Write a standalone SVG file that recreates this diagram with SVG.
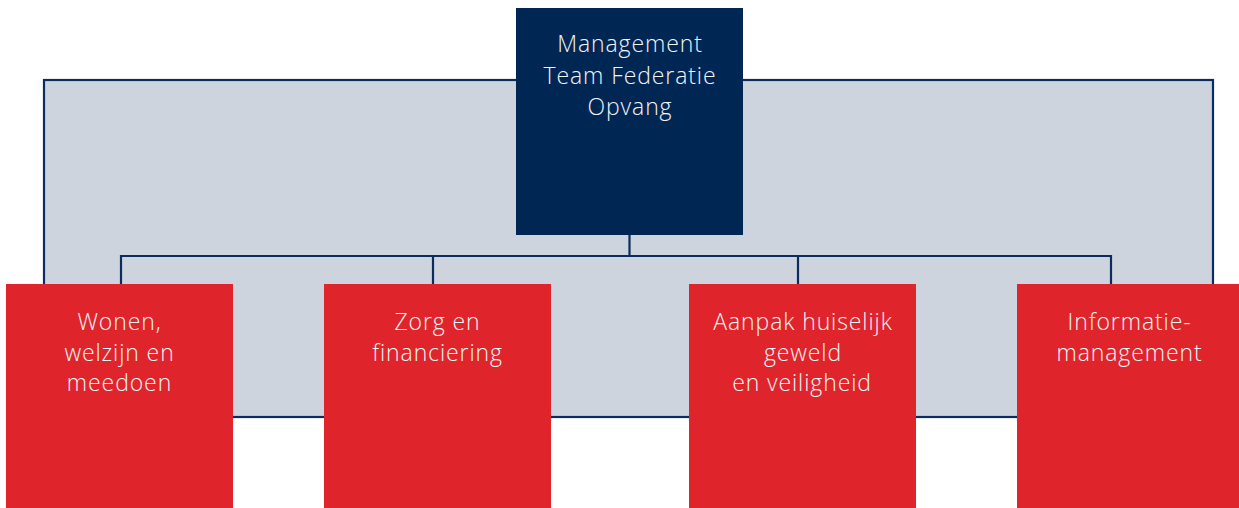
<svg xmlns="http://www.w3.org/2000/svg" width="1239" height="508" viewBox="0 0 1239 508">
<style>
.panel{fill:#cdd4de;stroke:#0b2c5c;stroke-width:2.2}
.conn{fill:none;stroke:#0b2c5c;stroke-width:2.2}
.top{fill:#002654}
.red{fill:#df252b}
.t{font-family:"Open Sans","Noto Sans",sans-serif;font-size:23px;letter-spacing:0.9px;fill:#f4f4f6;text-anchor:middle;font-weight:300}
</style>
<rect class="panel" x="44" y="80" width="1169" height="337"/>
<g id="connectors">
<path class="conn" d="M629.5 235V256M121 284V256H1111V284M433 256V284M798 256V284"/>
</g>
<g id="mt">
<rect class="top" x="516" y="8" width="227" height="227"/>
<text class="t" x="630" y="52">Management</text>
<text class="t" x="630" y="84">Team Federatie</text>
<text class="t" x="630" y="115">Opvang</text>
</g>
<g id="wonen">
<rect class="red" x="6" y="284" width="227" height="224"/>
<text class="t" x="119.5" y="330">Wonen,</text>
<text class="t" x="119.5" y="361">welzijn en</text>
<text class="t" x="119.5" y="391">meedoen</text>
</g>
<g id="zorg">
<rect class="red" x="324" y="284" width="227" height="224"/>
<text class="t" x="437.5" y="330">Zorg en</text>
<text class="t" x="437.5" y="361">financiering</text>
</g>
<g id="aanpak">
<rect class="red" x="689" y="284" width="227" height="224"/>
<text class="t" x="803" y="330">Aanpak huiselijk</text>
<text class="t" x="803" y="361">geweld</text>
<text class="t" x="802" y="391">en veiligheid</text>
</g>
<g id="info">
<rect class="red" x="1017" y="284" width="222" height="224"/>
<text class="t" x="1129.5" y="330">Informatie-</text>
<text class="t" x="1129.5" y="361">management</text>
</g>
</svg>
